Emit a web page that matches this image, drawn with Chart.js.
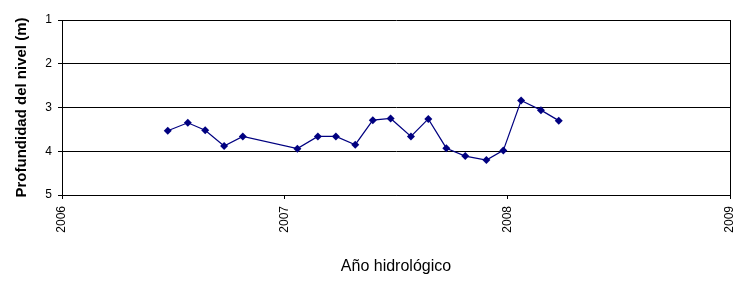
<!DOCTYPE html>
<html lang="es">
<head>
    <meta charset="UTF-8">
    <title>Profundidad del nivel</title>
    <script src="https://cdn.jsdelivr.net/npm/chart.js"></script>
    <style>
        body { margin: 0; padding: 0; background: #fff; }
        #wrap { width: 740px; height: 281px; }
    </style>
</head>
<body>
    <div id="wrap"><canvas id="nivelChart" width="740" height="281"></canvas></div>
    <script>
        // fecha en años decimales, profundidad en m
        const fechas = [2006.475, 2006.565, 2006.643, 2006.728, 2006.812,
                        2007.057, 2007.149, 2007.230, 2007.317, 2007.396,
                        2007.476, 2007.567, 2007.645, 2007.726, 2007.811,
                        2007.906, 2007.982, 2008.062, 2008.151, 2008.231];
        const profundidad = [3.53, 3.35, 3.52, 3.88, 3.66,
                             3.94, 3.66, 3.66, 3.85, 3.29,
                             3.25, 3.66, 3.26, 3.93, 4.11,
                             4.20, 3.98, 2.84, 3.06, 3.30];
        const anios = [2006, 2007, 2008, 2009];
        const etiquetasAnio = ['2006', '2007', '2008', '2009'];

        const font = 'Liberation Sans, Arial, sans-serif';

        const puntos = fechas.map((f, i) => ({ x: f, y: profundidad[i] }));

        new Chart(document.getElementById('nivelChart'), {
            type: 'line',
            data: {
                datasets: [{
                    data: puntos,
                    borderColor: '#000080',
                    backgroundColor: '#000080',
                    borderWidth: 1.2,
                    pointStyle: 'rectRot',
                    pointRadius: 4,
                    pointBorderWidth: 0,
                    tension: 0
                }]
            },
            options: {
                responsive: false,
                animation: false,
                layout: { padding: { top: 20, right: 10, bottom: 0, left: 0 } },
                plugins: { legend: { display: false }, tooltip: { enabled: false } },
                scales: {
                    x: {
                        type: 'linear',
                        min: anios[0],
                        max: anios[anios.length - 1],
                        afterBuildTicks: s => { s.ticks = anios.map(v => ({ value: v })); },
                        afterFit: s => {
                            s.height = 86;
                            s.paddingLeft = 0;
                            s.paddingRight = 0;
                        },
                        ticks: {
                            minRotation: 90,
                            maxRotation: 90,
                            padding: 7,
                            color: '#000',
                            font: { family: font, size: 12 },
                            callback: v => etiquetasAnio[anios.indexOf(v)]
                        },
                        grid: {
                            drawOnChartArea: true,
                            color: c => (c.tick && c.tick.value === 2009) ? '#000' : 'rgba(0,0,0,0)',
                            tickColor: '#000',
                            tickLength: 4,
                            lineWidth: 1
                        },
                        border: { display: true, color: '#000', width: 1 },
                        title: {
                            display: true,
                            text: 'Año hidrológico',
                            color: '#000',
                            font: { family: font, size: 16 },
                            padding: { top: 0, bottom: 5 }
                        }
                    },
                    y: {
                        reverse: true,
                        min: 1,
                        max: 5,
                        afterFit: s => { s.width = 62; },
                        ticks: {
                            stepSize: 1,
                            padding: 6,
                            color: '#000',
                            font: { family: font, size: 12 }
                        },
                        grid: {
                            color: '#000',
                            tickColor: '#000',
                            tickLength: 4,
                            lineWidth: 1
                        },
                        border: { display: true, color: '#000', width: 1 },
                        title: {
                            display: true,
                            text: 'Profundidad del nivel (m)',
                            color: '#000',
                            font: { family: font, size: 15, weight: 'bold' },
                            padding: { top: 13, bottom: 0 }
                        }
                    }
                }
            }
        });
    </script>
</body>
</html>
